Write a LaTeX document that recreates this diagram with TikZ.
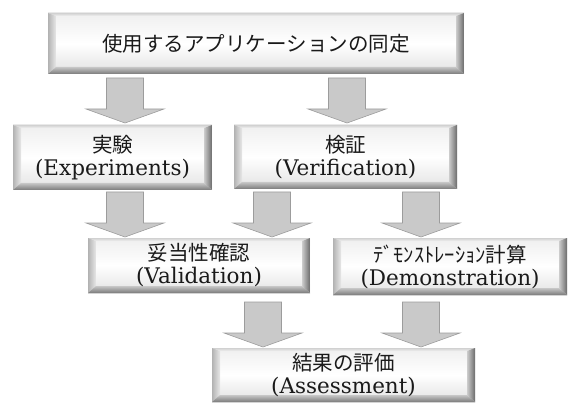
\documentclass[tikz,border=0pt]{standalone}
\usepackage{fontspec}
\newfontfamily\jp{Noto Sans CJK JP}
\newfontfamily\enfont{DejaVu Serif}
\newcommand\entext[1]{{\enfont\fontsize{21.5}{23}\selectfont #1}}
\definecolor{arrowfill}{HTML}{C9C9C9}
\definecolor{arrowline}{HTML}{9C9C9C}
\definecolor{facetop}{HTML}{EFEFEF}
\definecolor{facebot}{HTML}{E2E2E2}
\definecolor{txt}{HTML}{1A1A1A}
\tikzset{
  bevbox/.style={rectangle, inner sep=0pt, align=center, text=txt,
    top color=facetop, bottom color=facebot, middle color=white,
    font=\fontsize{20.5}{23}\selectfont,
    path picture={
      \coordinate (nw) at (path picture bounding box.north west);
      \coordinate (ne) at (path picture bounding box.north east);
      \coordinate (sw) at (path picture bounding box.south west);
      \coordinate (se) at (path picture bounding box.south east);
      \shade[top color=black!18, bottom color=black!6]
        (nw) -- (ne) -- ([xshift=-8pt,yshift=-3pt]ne) -- ([xshift=8pt,yshift=-3pt]nw) -- cycle;
      \shade[left color=black!30, right color=black!9]
        (nw) -- ([xshift=8pt,yshift=-3pt]nw) -- ([xshift=8pt,yshift=7pt]sw) -- (sw) -- cycle;
      \shade[left color=black!20, right color=black!58]
        (ne) -- (se) -- ([xshift=-8pt,yshift=7pt]se) -- ([xshift=-8pt,yshift=-3pt]ne) -- cycle;
      \shade[top color=black!22, bottom color=black!52]
        (sw) -- (se) -- ([xshift=-8pt,yshift=7pt]se) -- ([xshift=8pt,yshift=7pt]sw) -- cycle;
    }},
  darrow/.pic={
    \filldraw[fill=arrowfill, draw=arrowline, line width=0.6pt]
      (-18.5,0) -- (18.5,0) -- (18.5,31) -- (39,31) -- (0,45) -- (-39,31) -- (-18.5,31) -- cycle;
  }
}
\begin{document}
\begin{tikzpicture}[x=1pt,y=-1pt]
\useasboundingbox (0,0) rectangle (569,403);
% arrows
\pic (a1) at (125,78) {darrow};
\pic (a2) at (347,78) {darrow};
\pic (b1) at (125,192) {darrow};
\pic (b2) at (272,192) {darrow};
\pic (b3) at (421,192) {darrow};
\pic (c1) at (263,302) {darrow};
\pic (c2) at (421,302) {darrow};
% boxes
\node[bevbox, minimum width=416pt, minimum height=61pt] (top) at (256,43.5)
  {{\jp 使用するアプリケーションの同定}};
\node[bevbox, minimum width=199pt, minimum height=65pt] (exp) at (112.5,157.5)
  {{\jp 実験}\\\entext{(Experiments)}};
\node[bevbox, minimum width=223pt, minimum height=64pt] (ver) at (345.5,157)
  {{\jp 検証}\\\entext{(Verification)}};
\node[bevbox, minimum width=222pt, minimum height=55pt] (val) at (199,265.5)
  {{\jp 妥当性確認}\\\entext{(Validation)}};
\node[bevbox, minimum width=234pt, minimum height=57pt] (dem) at (450,266.5)
  {{\jp ﾃﾞﾓﾝｽﾄﾚｰｼｮﾝ計算}\\\entext{(Demonstration)}};
\node[bevbox, minimum width=263pt, minimum height=54pt] (ass) at (343.5,375)
  {{\jp 結果の評価}\\\entext{(Assessment)}};
\end{tikzpicture}
\end{document}
